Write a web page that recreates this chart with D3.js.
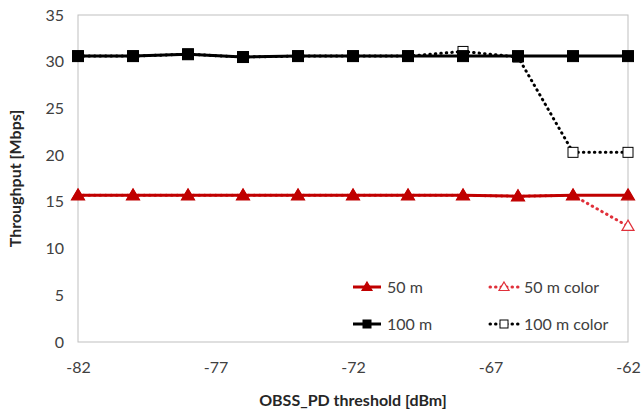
<!DOCTYPE html>
<html>
<head>
<meta charset="utf-8">
<script src="https://cdn.jsdelivr.net/npm/d3@7"></script>
<style>
  body { margin: 0; background: #fff; }
  text { font-family: Lato, "Open Sans", sans-serif; }
</style>
</head>
<body>
<svg id="mainSVG"></svg>
<script>
// data
let thresholds = [-82, -80, -78, -76, -74, -72, -70, -68, -66, -64, -62]
let m50 = [15.7, 15.7, 15.7, 15.7, 15.7, 15.7, 15.7, 15.7, 15.6, 15.7, 15.7]
let m50color = [15.7, 15.7, 15.7, 15.7, 15.7, 15.7, 15.7, 15.7, 15.6, 15.7, 12.4]
let m100 = [30.6, 30.6, 30.8, 30.5, 30.6, 30.6, 30.6, 30.6, 30.6, 30.6, 30.6]
let m100color = [30.6, 30.6, 30.8, 30.5, 30.6, 30.6, 30.6, 31.1, 30.5, 20.3, 20.3]
let xTicks = [-82, -77, -72, -67, -62]
let yTicks = [0, 5, 10, 15, 20, 25, 30, 35]

let w = 642, h = 415
let m = {t: 15, r: 14, b: 73, l: 78}

let svg = d3.select('#mainSVG').attr('width', w).attr('height', h)

let x = d3.scaleLinear().domain([-82, -62]).range([m.l, w - m.r])
let y = d3.scaleLinear().domain([0, 35]).range([h - m.b, m.t])

// plot frame
svg.append('rect')
    .attr('x', m.l).attr('y', m.t)
    .attr('width', w - m.r - m.l).attr('height', h - m.b - m.t)
    .attr('fill', 'none').attr('stroke', '#bfbfbf').attr('stroke-width', 1)

// axes
let xAxis = svg.append('g')
    .attr('transform', `translate(0, ${h - m.b})`)
    .call(d3.axisBottom(x).tickValues(xTicks).tickSize(0).tickPadding(20).tickFormat(d => d))
xAxis.select('.domain').remove()
xAxis.selectAll('text').attr('font-size', 16).attr('fill', '#404040')

let yAxis = svg.append('g')
    .attr('transform', `translate(${m.l}, 0)`)
    .call(d3.axisLeft(y).tickValues(yTicks).tickSize(0).tickPadding(14))
yAxis.select('.domain').remove()
yAxis.selectAll('text').attr('font-size', 16).attr('fill', '#404040')

svg.append('text')
    .attr('x', (m.l + w - m.r) / 2).attr('y', 406)
    .attr('text-anchor', 'middle')
    .attr('font-size', 16).attr('font-weight', 'bold').attr('fill', '#262626')
    .text('OBSS_PD threshold [dBm]')

svg.append('text')
    .attr('transform', `translate(21, ${(m.t + h - m.b) / 2}) rotate(-90)`)
    .attr('text-anchor', 'middle')
    .attr('font-size', 16).attr('font-weight', 'bold').attr('fill', '#262626')
    .text('Throughput [Mbps]')

let series = [
    {name: '50 m', vals: m50, color: '#c00000', dash: null, width: 3, sym: 'tri', fill: true},
    {name: '100 m', vals: m100, color: '#000000', dash: null, width: 3, sym: 'sq', fill: true},
    {name: '50 m color', vals: m50color, color: '#e0303a', dash: '0.5,5', width: 3, sym: 'tri', fill: false},
    {name: '100 m color', vals: m100color, color: '#000000', dash: '0.5,5', width: 3, sym: 'sq', fill: false}
]

function symbol(g, s, cx, cy, size) {
    if (s.sym === 'sq') {
        g.append('rect')
            .attr('x', cx - size / 2).attr('y', cy - size / 2)
            .attr('width', size).attr('height', size)
            .attr('fill', s.fill ? s.color : '#fff')
            .attr('stroke', s.color).attr('stroke-width', 1)
    } else {
        let r = size / 2 + 1
        g.append('path')
            .attr('d', `M${cx},${cy - r}L${cx + r},${cy + r * 0.7}L${cx - r},${cy + r * 0.7}Z`)
            .attr('fill', s.fill ? s.color : '#fff')
            .attr('stroke', s.color).attr('stroke-width', 1.2)
    }
}

let line = d3.line().x((d, i) => x(thresholds[i])).y(d => y(d))

// draw dotted "color" series under the solid ones
let order = [series[2], series[3], series[0], series[1]]
order.forEach(s => {
    let g = svg.append('g')
    g.append('path')
        .datum(s.vals)
        .attr('fill', 'none')
        .attr('stroke', s.color)
        .attr('stroke-width', s.width)
        .attr('stroke-dasharray', s.dash)
        .attr('stroke-linecap', s.dash ? 'round' : 'butt')
        .attr('d', line)
    s.vals.forEach((v, i) => symbol(g, s, x(thresholds[i]), y(v), s.fill ? 11 : 10))
})

// legend
let legendPos = [
    {s: series[0], lx: 353, ly: 287},
    {s: series[2], lx: 490, ly: 287},
    {s: series[1], lx: 353, ly: 324},
    {s: series[3], lx: 490, ly: 324}
]
legendPos.forEach(p => {
    let g = svg.append('g')
    g.append('line')
        .attr('x1', p.lx).attr('x2', p.lx + 28)
        .attr('y1', p.ly).attr('y2', p.ly)
        .attr('stroke', p.s.color).attr('stroke-width', p.s.width)
        .attr('stroke-dasharray', p.s.dash)
        .attr('stroke-linecap', p.s.dash ? 'round' : 'butt')
    symbol(g, p.s, p.lx + 14, p.ly, 8)
    g.append('text')
        .attr('x', p.lx + 34).attr('y', p.ly + 6)
        .attr('font-size', 16).attr('fill', '#404040')
        .text(p.s.name)
})
</script>
</body>
</html>
